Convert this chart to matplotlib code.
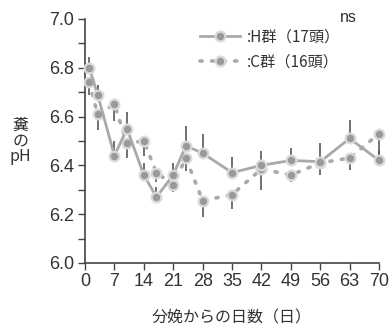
import matplotlib.pyplot as plt
from matplotlib.lines import Line2D

plt.rcParams['font.family'] = ['Liberation Sans', 'Noto Sans CJK JP', 'DejaVu Sans']

# 分娩後日数
days = [1, 3, 7, 10, 14, 17, 21, 24, 28, 35, 42, 49, 56, 63, 70]

# H群 (平均と上側SE)
h_ph = [6.80, 6.69, 6.44, 6.55, 6.36, 6.27, 6.36, 6.48, 6.45, 6.37, 6.40, 6.42, 6.415, 6.51, 6.42]
h_err = [0.045, 0.04, 0.06, 0.07, 0.05, 0.04, 0.05, 0.08, 0.08, 0.065, 0.06, 0.05, 0.075, 0.075, 0.04]

# C群 (平均と下側SE)
c_ph = [6.74, 6.61, 6.65, 6.49, 6.50, 6.37, 6.32, 6.43, 6.255, 6.28, 6.385, 6.36, 6.41, 6.43, 6.53]
c_err = [0.05, 0.065, 0.07, 0.06, 0.06, 0.04, 0.03, 0.055, 0.065, 0.06, 0.085, 0.03, 0.05, 0.05, 0.11]

xticks = list(range(0, 71, 7))
yticks = [6.0, 6.2, 6.4, 6.6, 6.8, 7.0]

line_c = '#a9a9a9'
mark_c = '#999999'
halo_c = '#dadada'
ink = '#333333'

fig = plt.figure(figsize=(3.9, 3.27), dpi=100)
ax = fig.add_axes([0.218, 0.196, 0.754, 0.746])

# 誤差棒 (H群は上、C群は下)
ax.vlines(days, h_ph, [v + e for v, e in zip(h_ph, h_err)], color='#4a4a4a', lw=1.1, zorder=2, clip_on=False)
ax.vlines(days, [v - e for v, e in zip(c_ph, c_err)], c_ph, color='#4a4a4a', lw=1.1, zorder=2, clip_on=False)

ax.plot(days, c_ph, linestyle=(0, (0.6, 2.6)), dash_capstyle='round', color=line_c, lw=2.6,
        marker='o', ms=7, mfc=mark_c, mec=halo_c, mew=1.6, zorder=3, clip_on=False)
ax.plot(days, h_ph, '-', color=line_c, lw=2.0,
        marker='o', ms=7, mfc=mark_c, mec=halo_c, mew=1.6, zorder=4, clip_on=False)

ax.set_xlim(0, 70)
ax.set_ylim(6.0, 7.0)
ax.set_xticks(xticks)
ax.set_yticks(yticks)
ax.set_yticks([6.1, 6.3, 6.5, 6.7, 6.9], minor=True)
ax.set_yticklabels([f'{v:.1f}' for v in yticks])
ax.tick_params(axis='both', direction='out', length=5, width=1, color='#444444',
               labelsize=13, labelcolor=ink)
ax.tick_params(axis='y', which='minor', direction='out', length=5, width=1, color='#444444')
ax.tick_params(axis='x', pad=2)
ax.tick_params(axis='y', pad=3)

for side in ['top', 'right']:
    ax.spines[side].set_visible(False)
for side in ['left', 'bottom']:
    ax.spines[side].set_color('#444444')
    ax.spines[side].set_linewidth(1.2)

ax.set_xlabel('分娩からの日数（日）', fontsize=11.5, color=ink,
              family=['Noto Sans CJK JP', 'DejaVu Sans'], labelpad=14)
fig.text(0.052, 0.568, '糞\nの\npH', ha='center', va='center', fontsize=11.5, color=ink,
         linespacing=0.9, family=['Noto Sans CJK JP', 'DejaVu Sans'])
fig.text(0.872, 0.948, 'ns', ha='left', va='center', fontsize=11.5, color=ink)

handles = [
    Line2D([], [], linestyle='-', color=line_c, lw=2.0, marker='o', ms=7,
           mfc=mark_c, mec=halo_c, mew=1.6),
    Line2D([], [], linestyle=(0, (0.6, 2.6)), dash_capstyle='round', color=line_c, lw=2.6,
           marker='o', ms=7, mfc=mark_c, mec=halo_c, mew=1.6),
]
leg = ax.legend(handles, [':H群（17頭）', ':C群（16頭）'], loc='upper left',
                bbox_to_anchor=(0.37, 0.985), frameon=False, handlelength=2.6,
                handletextpad=0.5, labelspacing=0.5, borderaxespad=0,
                prop={'family': ['Noto Sans CJK JP', 'DejaVu Sans'], 'size': 11})
for t in leg.get_texts():
    t.set_color(ink)

fig.savefig('out.png', dpi=100)
